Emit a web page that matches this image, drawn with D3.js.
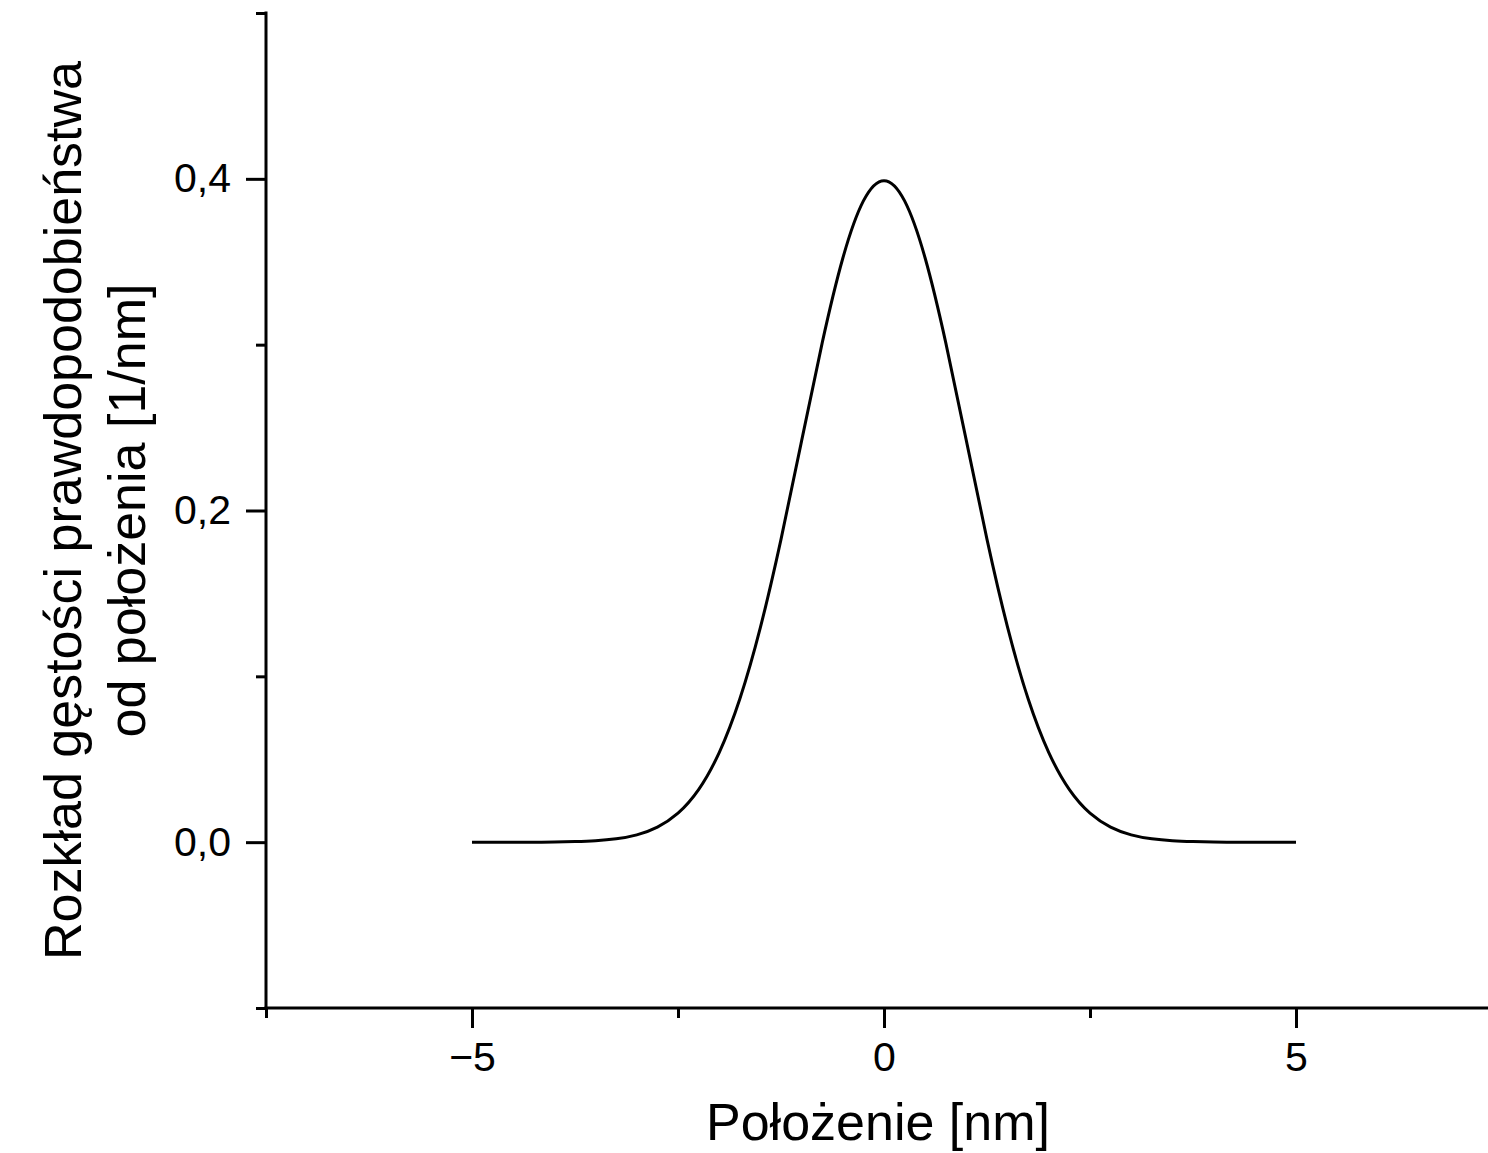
<!DOCTYPE html>
<html>
<head>
<meta charset="utf-8">
<script src="https://cdn.jsdelivr.net/npm/d3@7"></script>
<style>
  html, body { margin: 0; padding: 0; background: #fff; }
  svg { display: block; }
  text { font-family: "Liberation Sans", Arial, sans-serif; fill: #000; }
</style>
</head>
<body>
<div id="vis"></div>
<script>
// position [nm] and probability density [1/nm]
const positions = [
  -5, -4.75, -4.5, -4.25, -4, -3.75, -3.5, -3.25, -3, -2.75, -2.5, -2.25, -2, -1.75, -1.5, -1.25, -1, -0.75, -0.5, -0.25,
  0, 0.25, 0.5, 0.75, 1, 1.25, 1.5, 1.75, 2, 2.25, 2.5, 2.75, 3, 3.25, 3.5, 3.75, 4, 4.25, 4.5, 4.75, 5
];
const density = [
  0.0000, 0.0000, 0.0000, 0.0000, 0.0001, 0.0004, 0.0009, 0.0020, 0.0044, 0.0091, 0.0175, 0.0317, 0.0540, 0.0863, 0.1295, 0.1826, 0.2420, 0.3011, 0.3521, 0.3867,
  0.3989, 0.3867, 0.3521, 0.3011, 0.2420, 0.1826, 0.1295, 0.0863, 0.0540, 0.0317, 0.0175, 0.0091, 0.0044, 0.0020, 0.0009, 0.0004, 0.0001, 0.0000, 0.0000, 0.0000, 0.0000
];

const xMajorTicks = [-5, 0, 5];
const xMinorTicks = [-7.5, -2.5, 2.5, 7.5];
const yMajorTicks = [0, 0.2, 0.4];
const yMinorTicks = [-0.1, 0.1, 0.3, 0.5];

const xTitle = "Położenie [nm]";
const yTitleLines = ["Rozkład gęstości prawdopodobieństwa", "od położenia [1/nm]"];

const width = 1488;
const height = 1153;

// plot frame
const plotLeft = 266, plotTop = 13, plotBottom = 1008;

const x = d3.scaleLinear().domain([-7.5, 7.5]).range([plotLeft, 1502]);
const y = d3.scaleLinear().domain([-0.1, 0.5]).range([plotBottom, plotTop]);

const fmtY = v => d3.format(".1f")(v).replace(".", ",");
const fmtX = d3.format("d");

const svg = d3.select("#vis")
  .append("svg")
  .attr("width", width)
  .attr("height", height);

// x axis
const gx = svg.append("g").attr("transform", `translate(0,${plotBottom})`);
gx.call(d3.axisBottom(x).tickValues(xMajorTicks).tickSize(20).tickSizeOuter(0).tickPadding(14).tickFormat(fmtX));
gx.append("g").call(d3.axisBottom(x).tickValues(xMinorTicks).tickSize(10).tickSizeOuter(0).tickFormat(""));

// y axis
const gy = svg.append("g").attr("transform", `translate(${plotLeft},0)`);
gy.call(d3.axisLeft(y).tickValues(yMajorTicks).tickSize(20).tickSizeOuter(0).tickPadding(15).tickFormat(fmtY));
gy.append("g").call(d3.axisLeft(y).tickValues(yMinorTicks).tickSize(10).tickSizeOuter(0).tickFormat(""));

svg.selectAll(".domain").remove();
svg.selectAll(".tick line").attr("stroke", "#000").attr("stroke-width", 3);
svg.selectAll(".tick text")
  .style("font-size", "41px")
  .style("font-family", "'Liberation Sans', Arial, sans-serif")
  .attr("fill", "#000");

// axis lines drawn on top of the ticks
svg.append("line")
  .attr("x1", x(-7.5) - 1.5).attr("x2", width)
  .attr("y1", plotBottom).attr("y2", plotBottom)
  .attr("stroke", "#000").attr("stroke-width", 3);
svg.append("line")
  .attr("x1", plotLeft).attr("x2", plotLeft)
  .attr("y1", plotTop - 1.5).attr("y2", plotBottom)
  .attr("stroke", "#000").attr("stroke-width", 3);

// curve
const points = positions.map((p, i) => ({ p: p, v: density[i] }));
const line = d3.line()
  .x(d => x(d.p))
  .y(d => y(d.v))
  .curve(d3.curveNatural);

svg.append("path")
  .datum(points)
  .attr("fill", "none")
  .attr("stroke", "#000")
  .attr("stroke-width", 3)
  .attr("d", line);

// titles
svg.append("text")
  .attr("x", x(0) - 6)
  .attr("y", 1140)
  .attr("text-anchor", "middle")
  .style("font-size", "52px")
  .text(xTitle);

svg.selectAll(".ytitle")
  .data(yTitleLines)
  .enter()
  .append("text")
  .classed("ytitle", true)
  .attr("transform", (d, i) => `translate(${81 + i * 64},${(plotTop + plotBottom) / 2}) rotate(-90)`)
  .attr("text-anchor", "middle")
  .style("font-size", "52px")
  .text(d => d);
</script>
</body>
</html>
